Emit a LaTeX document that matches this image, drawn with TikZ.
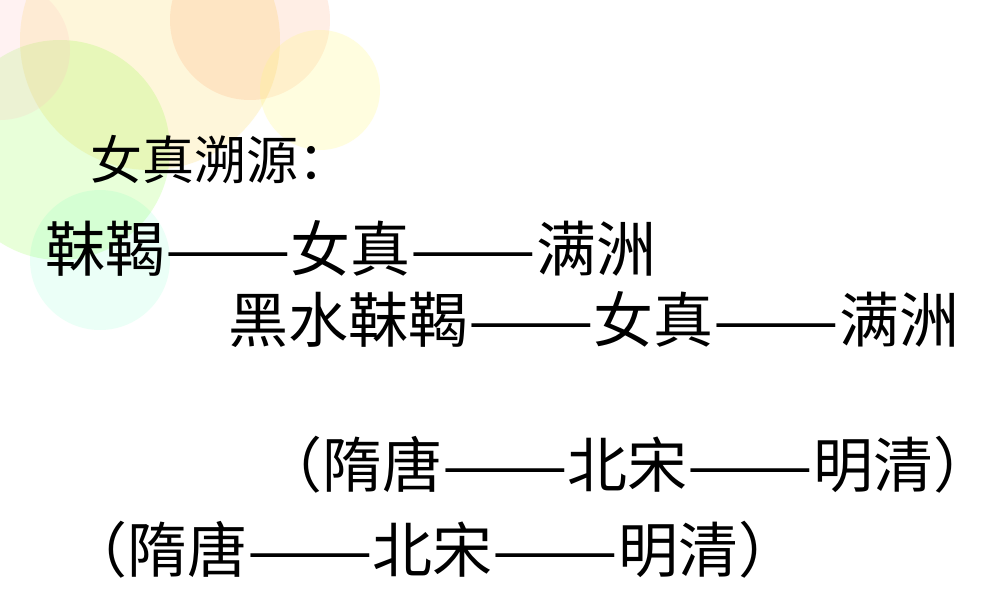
\documentclass[tikz,border=0pt]{standalone}
\usepackage{fontspec}
\usepackage{graphicx}
\setmainfont{Noto Sans CJK SC}
\newcommand{\dd}{\scalebox{1.25}[1]{——}}
\begin{document}
\begin{tikzpicture}[x=0.75pt,y=-0.75pt,
  txt/.style={anchor=west,inner sep=0pt,font=\fontsize{45}{50}\selectfont},
  ttl/.style={anchor=west,inner sep=0pt,font=\fontsize{39}{44}\selectfont}]
\fill[white] (0,0) rectangle (1000,600);
\useasboundingbox (0,0) rectangle (1000,600);
\begin{scope}
\fill[yellow!60!orange,opacity=0.15] (150,40) circle (130);
\fill[green!60!yellow,opacity=0.15] (60,150) circle (110);
\fill[orange!70!red,opacity=0.1] (250,20) circle (80);
\fill[pink,opacity=0.2] (0,50) circle (70);
\fill[yellow!50,opacity=0.25] (320,90) circle (60);
\fill[green!40!cyan,opacity=0.08] (100,260) circle (70);
\end{scope}
\node[ttl] (t) at (90,160) {女真溯源：};
\node[txt] (l1) at (45,248) {靺鞨\dd 女真\dd 满洲};
\node[txt] (l2) at (228,320) {黑水靺鞨\dd 女真\dd 满洲};
\node[txt] (l3) at (262,465) {（隋唐\dd 北宋\dd 明清）};
\node[txt] (l4) at (67,550) {（隋唐\dd 北宋\dd 明清）};
\end{tikzpicture}
\end{document}
